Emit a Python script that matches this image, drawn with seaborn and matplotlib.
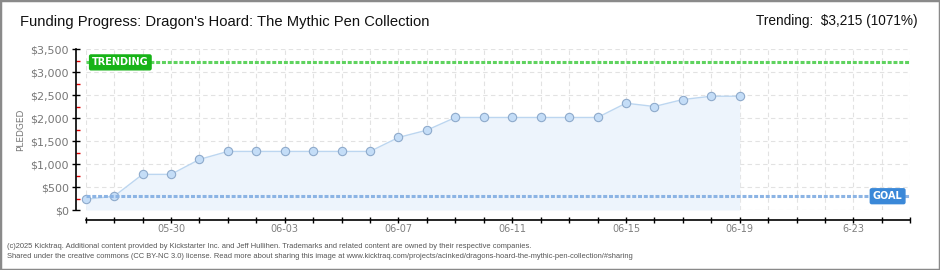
import matplotlib
matplotlib.use("Agg")
import matplotlib.pyplot as plt
import matplotlib.dates as mdates
from matplotlib.ticker import FixedLocator, FuncFormatter, MultipleLocator
from matplotlib.patches import Rectangle
import seaborn as sns
import pandas as pd

# ---- data ----
dates = pd.date_range("2025-05-27", "2025-06-19", freq="D")
pledged = [233, 300, 776, 776, 1102,
           1276, 1276, 1276, 1276, 1276, 1276,
           1580, 1739,
           2015, 2015, 2015, 2015, 2015, 2015,
           2326, 2254, 2406, 2478, 2478]
goal = 300
trending = 3215
x_start, x_end = "2025-05-27", "2025-06-25"
label_dates = ["2025-05-30", "2025-06-03", "2025-06-07", "2025-06-11",
               "2025-06-15", "2025-06-19", "2025-06-23"]
label_texts = ["05-30", "06-03", "06-07", "06-11", "06-15", "06-19", "6-23"]
y_ticks = [0, 500, 1000, 1500, 2000, 2500, 3000, 3500]

df = pd.DataFrame({"date": dates, "pledged": pledged})

sns.set_theme(style="white")
plt.rcParams["font.family"] = ["DejaVu Sans"]

fig = plt.figure(figsize=(9.4, 2.7), dpi=100)
ax = fig.add_axes([85.7 / 940, 60 / 270, 824.6 / 940, 160.7 / 270])

# fill under curve
ax.fill_between(df["date"], df["pledged"], 0, color="#edf4fc", zorder=1, lw=0)
sns.lineplot(data=df, x="date", y="pledged", ax=ax, color="#bcd6f0", lw=1, zorder=3)
sns.scatterplot(data=df, x="date", y="pledged", ax=ax, s=36, color="#c4ddf7",
                edgecolor="#8eaacb", linewidth=0.8, zorder=4, clip_on=False)

# goal & trending lines
ax.axhline(goal, color="#8cb4e4", lw=2.2, linestyle=(0, (1.3, 0.6)), zorder=5)
ax.axhline(trending, color="#5fd35f", lw=2.2, linestyle=(0, (1.3, 0.6)), zorder=5)

ax.text(0.042, trending, "TRENDING", transform=ax.get_yaxis_transform(),
        ha="center", va="center", color="white", fontsize=7, fontweight="bold",
        bbox=dict(boxstyle="round,pad=0.25,rounding_size=0.15", fc="#17b317", ec="#17b317"),
        zorder=6)
ax.text(0.9725, goal, "GOAL", transform=ax.get_yaxis_transform(),
        ha="center", va="center", color="white", fontsize=7, fontweight="bold",
        bbox=dict(boxstyle="round,pad=0.25,rounding_size=0.15", fc="#3a88d8", ec="#3a88d8"),
        zorder=6)

# axes limits and ticks
ax.set_xlim(pd.Timestamp(x_start), pd.Timestamp(x_end))
ax.set_ylim(0, 3500)
ax.xaxis.set_major_locator(mdates.DayLocator())
lab_map = {mdates.date2num(pd.Timestamp(d)): t for d, t in zip(label_dates, label_texts)}
ax.xaxis.set_major_formatter(FuncFormatter(lambda v, p: lab_map.get(round(v), "")))
ax.yaxis.set_major_locator(FixedLocator(y_ticks))
ax.yaxis.set_major_formatter(FuncFormatter(lambda v, p: "${:,.0f}".format(v)))
ax.yaxis.set_minor_locator(MultipleLocator(250))

ax.tick_params(axis="x", which="major", direction="inout", length=4.5, width=1,
               color="black", labelsize=7, labelcolor="#808080", pad=1, bottom=True)
ax.tick_params(axis="y", which="major", direction="inout", length=6, width=1,
               color="black", labelsize=8, labelcolor="#777777", pad=2, left=True)
ax.tick_params(axis="y", which="minor", direction="in", length=3, width=1,
               color="#dd0000", left=True)

ax.grid(True, which="major", color="#e2e2e2", linestyle=(0, (4, 3)), lw=0.8)
ax.set_axisbelow(True)

for s in ["top", "right"]:
    ax.spines[s].set_visible(False)
ax.spines["left"].set_position(("outward", 7))
ax.spines["bottom"].set_position(("outward", 7))
ax.spines["left"].set_color("black")
ax.spines["bottom"].set_color("black")
ax.spines["left"].set_linewidth(1.2)
ax.spines["bottom"].set_linewidth(1.2)

ax.set_xlabel("")
ax.set_ylabel("PLEDGED", fontsize=6.5, color="#777777")
ax.yaxis.set_label_coords(-0.074, 0.5)

# titles
fig.text(20 / 940, 1 - 22 / 270, "Funding Progress: Dragon's Hoard: The Mythic Pen Collection",
         ha="left", va="center", fontsize=10.6, color="#111111", family="Liberation Sans")
fig.text(918 / 940, 1 - 21 / 270, "Trending:  $3,215 (1071%)",
         ha="right", va="center", fontsize=9.8, color="#111111", family="Liberation Sans")

# footer
fig.text(7 / 940, 1 - 247 / 270,
         "(c)2025 Kicktraq. Additional content provided by Kickstarter Inc. and Jeff Hullihen. "
         "Trademarks and related content are owned by their respective companies.",
         ha="left", va="center", fontsize=5.45, color="#555555", family="Liberation Sans")
fig.text(7 / 940, 1 - 257 / 270,
         "Shared under the creative commons (CC BY-NC 3.0) license. Read more about sharing this "
         "image at www.kicktraq.com/projects/acinked/dragons-hoard-the-mythic-pen-collection/#sharing",
         ha="left", va="center", fontsize=5.45, color="#555555", family="Liberation Sans")

fig.patches.append(Rectangle((0, 0), 1, 1, transform=fig.transFigure, fill=False,
                             ec="#8a8a8a", lw=2.5))

fig.savefig("out.png", dpi=100)
